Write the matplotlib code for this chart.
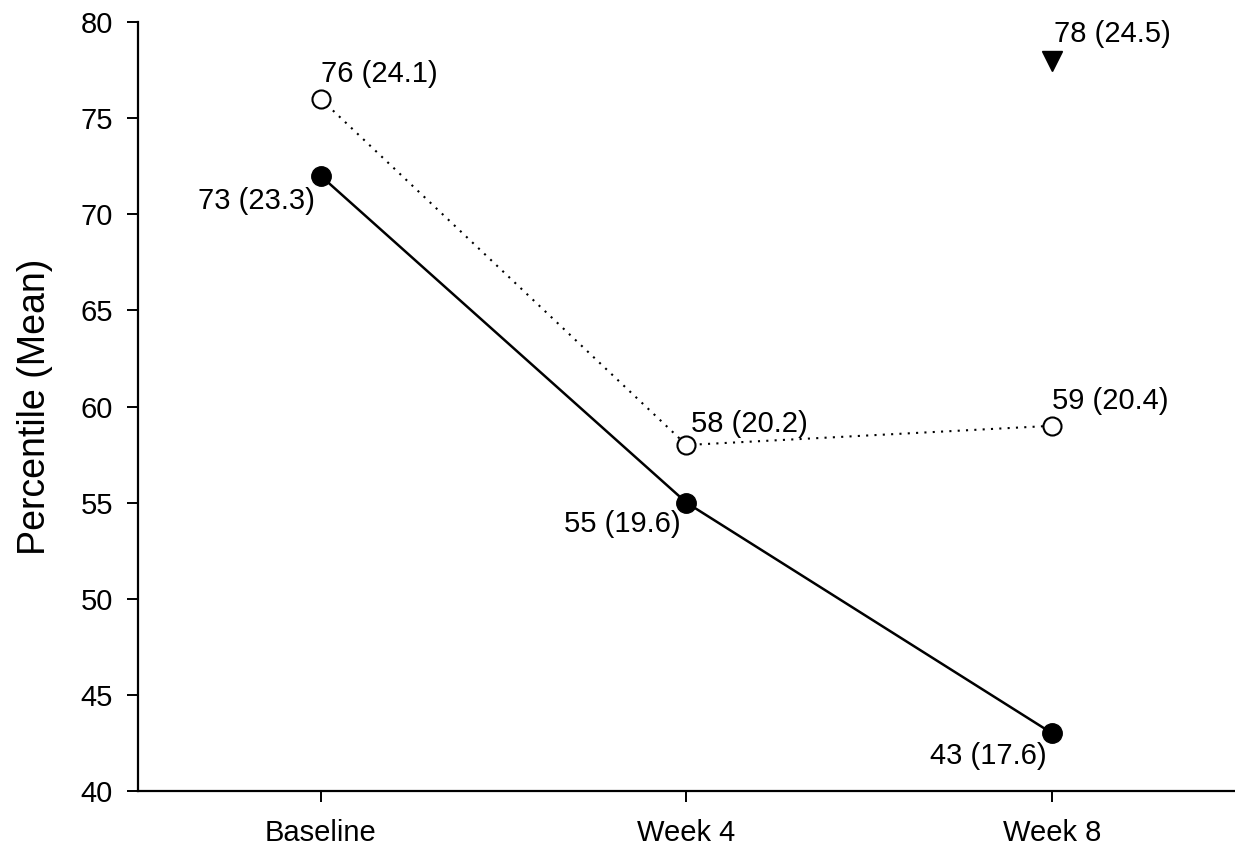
import matplotlib
matplotlib.use("Agg")
import matplotlib.pyplot as plt

plt.rcParams['font.family'] = ['Liberation Sans', 'DejaVu Sans']

# Data
timepoints = ['Baseline', 'Week 4', 'Week 8']
filled_vals = [72, 55, 43]
filled_labels = ['73 (23.3)', '55 (19.6)', '43 (17.6)']
open_vals = [76, 58, 59]
open_labels = ['76 (24.1)', '58 (20.2)', '59 (20.4)']
tri_x = 2
tri_val = 78
tri_label = '78 (24.5)'

x = list(range(len(timepoints)))

fig = plt.figure(figsize=(12.35, 8.51), dpi=100)
ax = fig.add_axes([0.1117, 0.0705, 0.8883, 0.9035])

ax.plot(x, filled_vals, color='black', lw=1.8, marker='o', ms=14,
        mfc='black', mec='black', zorder=3)
ax.plot(x, open_vals, color='black', lw=1.5, ls=(0, (1, 3)), marker='o', ms=13,
        mfc='white', mec='black', mew=1.5, zorder=3)
ax.plot([tri_x], [tri_val], marker='v', ms=14, color='black', ls='none', zorder=3)

# labels for the filled series (left/below)
filled_off = [(-4, -18), (-4, -15), (-4, -16)]
for xi, v, lab, off in zip(x, filled_vals, filled_labels, filled_off):
    ax.annotate(lab, (xi, v), xytext=off, textcoords='offset points',
                ha='right', va='center', fontsize=21)

# labels for the open series (right/above)
open_off = [(0, 18), (3, 15), (0, 18)]
for xi, v, lab, off in zip(x, open_vals, open_labels, open_off):
    ax.annotate(lab, (xi, v), xytext=off, textcoords='offset points',
                ha='left', va='center', fontsize=21)

ax.annotate(tri_label, (tri_x, tri_val), xytext=(1.5, 19), textcoords='offset points',
            ha='left', va='center', fontsize=21)

ax.set_xlim(-0.5, 2.5)
ax.set_ylim(40, 80)
ax.set_yticks(range(40, 81, 5))
ax.set_xticks(x)
ax.set_xticklabels(timepoints)

ax.spines['top'].set_visible(False)
ax.spines['right'].set_visible(False)
ax.spines['left'].set_linewidth(1.6)
ax.spines['bottom'].set_linewidth(1.6)
ax.tick_params(axis='both', direction='out', length=8, width=1.4, labelsize=21, pad=10)
ax.tick_params(axis='x', labelsize=21, pad=12)

ax.set_ylabel('Percentile (Mean)', fontsize=27)
ax.yaxis.set_label_coords(-0.077, 0.5)

fig.savefig('out.png', dpi=100)
